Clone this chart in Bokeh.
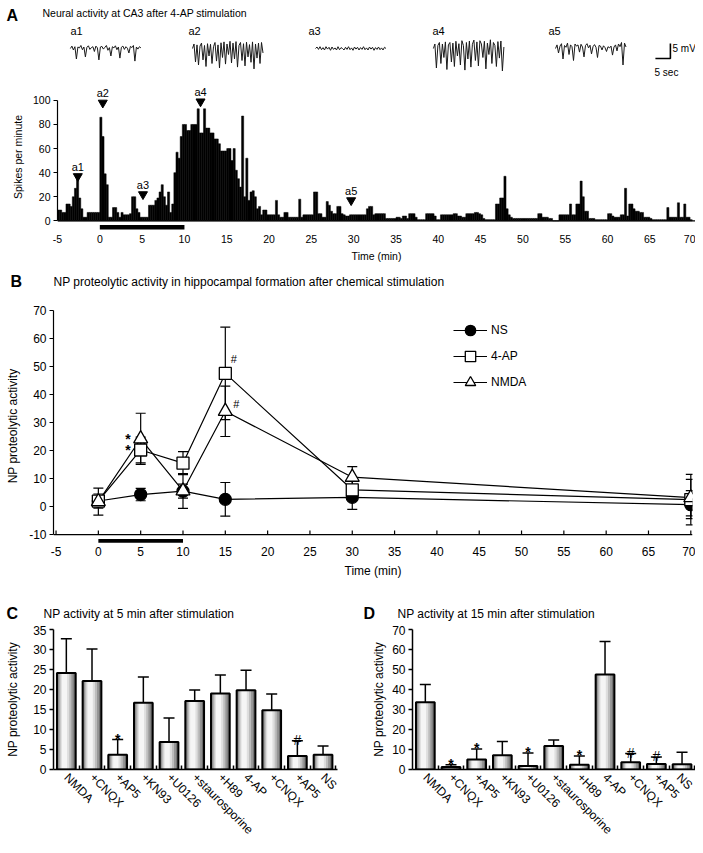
import math
import numpy as np
from bokeh.plotting import figure
from bokeh.layouts import column, row
from bokeh.models import (Range1d, Label, Span, FixedTicker, Whisker, TeeHead,
                          ColumnDataSource, Legend, LegendItem)
from bokeh.core.properties import value
from bokeh.embed import file_html
from bokeh.resources import INLINE

SANS = "Liberation Sans"

# ======================= DATA =======================
# ---- Panel A: example traces (mV, sampled every trace_dt_s seconds) ----
trace_labels = ["a1", "a2", "a3", "a4", "a5"]
trace_a1 = [0, 0.8, -0.5, 0.6, -3.5, 0.5, 0.2, 1.0, -0.4, 0.5, -2.8, 0.4, 0.9, -0.3, 0.3, 0.6,
            -1.0, 0.8, 0.2, -3.8, 0.5, 0.7, -0.2, 0.4, 1.0, -0.6, 0.3, -2.5, 0.6, 0.2, 0.9, -0.4,
            0.5, -3.2, 0.4, 0.8, -0.3, 0.6, 0.1, -1.5, 0.7, 0.3, 1.0, -4.2, 0.5, -0.2, 0.6, 0.2]
trace_a2 = [0, 1.5, -4.5, 1.2, -5.5, 0.8, 1.8, -3.8, 1.0, -6.0, 1.6, -2.5, 1.4, -5.0, 0.6, 2.0,
            -4.2, 1.2, -6.5, 1.9, -3.0, 2.2, -5.2, 1.5, -2.0, 2.4, -4.8, 1.8, -3.5, 2.3, -6.2, 1.0,
            2.0, -4.0, 1.6, -5.8, 2.1, -2.8, 1.3, -4.6, 2.2, -6.8, 1.5, -3.2, 1.8, -5.0, 2.0, -1.5]
trace_a3 = [0, 0.5, -0.3, 0.6, -0.4, 0.3, -0.5, 0.6, -0.2, 0.4, -0.6, 0.5, -0.3, 0.2, -0.5, 0.6,
            -0.4, 0.3, 0.0, -0.5, 0.4, -0.3, 0.6, -0.4, 0.2, -0.6, 0.5, -0.2, 0.4, -0.5, 0.3, -0.3,
            0.6, -0.4, 0.2, -0.5, 0.5, -0.2, 0.4, -0.6, 0.3, -0.3, 0.5, -0.4, 0.2, -0.5, 0.4, 0.0]
trace_a4 = [0, 1.5, -6.5, 1.0, 2.0, -5.0, 1.5, -3.0, 2.2, -7.0, 1.2, 2.0, -4.5, 1.8, -6.0, 2.4,
            -2.5, 1.6, -5.5, 2.6, 1.0, -7.2, 2.0, -3.5, 2.5, -6.2, 1.4, 2.8, -4.0, 2.2, -5.8, 2.6,
            1.5, -3.0, 2.4, -6.8, 1.8, -2.0, 2.9, -5.0, 2.0, 1.0, -6.0, 2.3, -3.2, 2.5, -7.5, 0.5]
trace_a5 = [0, 1.2, -1.5, 0.8, 1.6, -3.5, 1.0, 0.4, 1.8, -2.0, 1.2, 0.6, -4.0, 1.5, 0.8, 1.2,
            -1.2, 1.4, 0.5, -2.8, 1.0, 1.6, 0.2, 1.1, -1.8, 0.6, 1.3, 0.4, -3.0, 1.0, 0.8, -0.5,
            0.9, 0.3, -1.0, 0.6, 0.2, 0.8, -2.2, 0.5, 1.2, -0.8, 1.5, 0.6, 2.0, -5.5, 1.8, 0.5]
trace_dt_s = 0.5
scale_bar_sec = 5
scale_bar_mv = 5

# ---- Panel A: spike histogram (spikes per minute, 0.25-min bins from -5 min) ----
a_first_bin = -5.0
a_bin_min = 0.25
a_spikes = [
    9, 9, 7, 7, 14, 14, 12, 20, 27, 35, 19, 10, 3, 3, 7, 7, 7, 7, 7, 7,          # -5..0
    86, 70, 39, 30, 3, 3, 11, 11, 7, 3, 7, 5, 5, 5, 6, 20, 20, 10, 7, 3,         # 0..5
    3, 3, 3, 13, 13, 13, 17, 19, 24, 30, 20, 13, 24, 7, 14, 40, 57, 52, 70, 80,  # 5..10
    80, 75, 75, 80, 80, 80, 93, 73, 73, 93, 77, 77, 73, 73, 68, 68, 64, 58, 58, 58,  # 10..15
    60, 60, 50, 60, 42, 35, 28, 87, 20, 52, 17, 24, 25, 20, 10, 12, 5, 9, 9, 5,  # 15..20
    5, 5, 5, 17, 5, 3, 3, 7, 7, 3, 3, 3, 3, 3, 18, 3, 5, 5, 5, 5,                # 20..25
    5, 24, 24, 6, 6, 3, 3, 16, 13, 8, 6, 6, 12, 12, 6, 5, 4, 4, 5, 5,            # 25..30
    5, 5, 5, 5, 5, 5, 10, 12, 12, 5, 6, 6, 6, 6, 6, 2, 2, 2, 2, 2,               # 30..35
    3, 3, 2, 4, 4, 2, 6, 6, 6, 3, 1, 1, 1, 1, 6, 6, 6, 6, 4, 1,                  # 35..40
    1, 5, 5, 5, 5, 5, 5, 6, 6, 4, 4, 3, 3, 6, 6, 6, 6, 7, 7, 6,                  # 40..45
    5, 2, 1, 1, 1, 1, 1, 14, 14, 19, 19, 37, 10, 5, 3, 2, 2, 2, 2, 2,            # 45..50
    2, 2, 2, 2, 2, 2, 2, 6, 6, 3, 3, 3, 2, 2, 0, 0, 0, 5, 5, 5,                  # 50..55
    5, 5, 14, 5, 5, 14, 14, 33, 20, 8, 8, 2, 2, 2, 1, 1, 1, 1, 1, 1,             # 55..60
    6, 6, 4, 3, 3, 3, 5, 5, 27, 4, 14, 14, 10, 8, 8, 7, 7, 3, 3, 3,              # 60..65
    2, 1, 1, 1, 1, 1, 1, 1, 11, 3, 3, 3, 3, 15, 3, 3, 14, 3, 3, 1,               # 65..70
]
a_xticks = list(range(-5, 75, 5))
a_yticks = [0, 20, 40, 60, 80, 100]
a_event_t = [-2.6, 0.35, 5.1, 11.9, 29.7]
a_event_y = [37, 98, 22, 99, 17]
stim_on = [0]
stim_off = [10]

# ---- Panel B: NP proteolytic activity time course ----
b_time = [0, 5, 10, 15, 30, 70]
b_ns = [2.0, 4.3, 5.5, 2.6, 3.3, 0.7]
b_ns_err = [1.5, 2.2, 2.5, 6.0, 4.3, 5.0]
b_4ap = [2.0, 20.2, 15.5, 47.5, 6.0, 2.5]
b_4ap_err = [2.5, 4.6, 4.1, 16.5, 3.0, 9.0]
b_nmda = [1.8, 24.2, 5.6, 34.0, 10.5, 3.2]
b_nmda_err = [4.8, 9.1, 6.2, 9.0, 3.8, 6.5]
b_xticks = list(range(-5, 75, 5))
b_yticks = list(range(-10, 80, 10))
b_star_t = [3.5, 3.5]
b_star_y = [25.3, 21.1]
b_hash_t = [16.0, 16.3]
b_hash_y = [52.6, 36.6]

# ---- Panels C / D: bar charts ----
cd_labels = ["NMDA", "+CNQX", "+AP5", "+KN93", "+U0126", "+staurosporine", "+H89",
             "4-AP", "+CNQX", "+AP5", "NS"]
c_mean = [24.1, 22.1, 3.7, 16.7, 6.9, 17.1, 19.0, 19.8, 14.8, 3.4, 3.7]
c_err = [8.6, 8.0, 3.8, 6.4, 6.0, 2.8, 4.6, 5.0, 4.1, 3.8, 2.2]
c_mark_idx = [2, 9]
c_mark_txt = ["*", "#"]
c_yticks = [0, 5, 10, 15, 20, 25, 30, 35]
d_mean = [33.6, 1.3, 5.0, 7.1, 1.8, 11.7, 2.4, 47.5, 3.6, 2.8, 2.6]
d_err = [8.9, 1.1, 5.2, 6.9, 6.5, 3.1, 4.4, 16.5, 4.4, 3.4, 6.0]
d_mark_idx = [1, 2, 4, 6, 8, 9]
d_mark_txt = ["*", "*", "*", "*", "#", "#"]
d_yticks = [0, 10, 20, 30, 40, 50, 60, 70]

# ======================= HELPERS =======================
W = 695
COMMON = dict(toolbar_location=None, output_backend="svg", outline_line_color=None,
              frame_align=False)


def label(p, x, y, text, size="12px", bold=False, align="left", baseline="middle"):
    p.add_layout(Label(x=x, y=y, x_units="screen", y_units="screen", text=text,
                       text_font=SANS, text_font_size=size,
                       text_font_style="bold" if bold else "normal",
                       text_color="black", text_baseline=baseline, text_align=align))


def style_axis(ax, size="12px", lw=1.2):
    ax.axis_line_color = "black"
    ax.axis_line_width = lw
    ax.major_tick_line_color = "black"
    ax.major_tick_line_width = lw
    ax.minor_tick_line_color = None
    ax.major_label_text_font = SANS
    ax.major_label_text_font_size = size
    ax.major_label_text_color = "black"
    ax.axis_label_text_font = SANS
    ax.axis_label_text_font_size = size
    ax.axis_label_text_font_style = "normal"
    ax.axis_label_text_color = "black"


def hyphen_labels(ticks):
    return {t: ("-%d" % abs(t)) for t in ticks if t < 0}


def header_fig(h):
    p = figure(width=W, height=h, x_range=Range1d(0, W), y_range=Range1d(0, h),
               x_axis_type=None, y_axis_type=None, min_border=0, **COMMON)
    p.title.visible = False
    return p


# ======================= PANEL A: header + traces strip =======================
PA_H = 83
trace_x0 = [23.3, 64.0, 105.0, 144.3, 185.0]   # layout: seconds from strip left (3 px/s)
pa = figure(width=W, height=PA_H, x_range=Range1d(0, W / 3), y_range=Range1d(-11.67, 16.0),
            x_axis_type=None, y_axis_type=None, min_border=0, **COMMON)
pa.title.visible = False
for data, x0 in zip([trace_a1, trace_a2, trace_a3, trace_a4, trace_a5], trace_x0):
    t = x0 + trace_dt_s * np.arange(len(data))
    pa.line(t, data, line_color="#1a1a1a", line_width=1)
sb_x, sb_y = 223.3, -3.33
pa.line([sb_x - scale_bar_sec, sb_x, sb_x], [sb_y, sb_y, sb_y + scale_bar_mv],
        line_color="black", line_width=1.6)
label(pa, 6, PA_H - 6, "A", size="16px", bold=True, baseline="top")
label(pa, 42, PA_H - 6, "Neural activity at CA3 after 4-AP stimulation", size="10.5px",
      baseline="top")
for name, px in zip(trace_labels, [70, 188, 308, 432, 548]):
    label(pa, px, PA_H - 30, name, size="11px")
label(pa, 672, PA_H - 48, "5 mV", size="10px")
label(pa, 654, PA_H - 72, "5 sec", size="10px")

# ======================= PANEL A: histogram =======================
ph = figure(width=W, height=182, x_range=Range1d(-5, 70.39), y_range=Range1d(-8, 114),
            min_border_left=57, min_border_right=0, min_border_top=0, min_border_bottom=35,
            **COMMON)
ph.title.visible = False
ph.grid.visible = False
edges = a_first_bin + a_bin_min * np.arange(len(a_spikes))
ph.quad(left=edges, right=edges + a_bin_min, bottom=0, top=a_spikes,
        fill_color="black", line_color="black", line_width=0.5)
ph.add_layout(Span(location=0, dimension="width", line_color="black", line_width=1.2))
ph.quad(left=stim_on, right=stim_off, bottom=-7.2, top=-3.4, fill_color="black", line_color=None)
ph.scatter(a_event_t, a_event_y, marker="inverted_triangle", size=9,
           fill_color="black", line_color="black")
ph.text(a_event_t, list(np.array(a_event_y) + 8), text=trace_labels, text_align="center",
        text_baseline="middle", text_font=value(SANS), text_font_size="11px",
        text_color="black")
style_axis(ph.xaxis[0], size="10.5px")
ph.xaxis.ticker = FixedTicker(ticks=a_xticks)
ph.xaxis.major_label_overrides = hyphen_labels(a_xticks)
ph.xaxis.axis_line_color = None
ph.xaxis.major_tick_out = 0
ph.xaxis.major_tick_in = 0
ph.xaxis.major_label_standoff = 4
ph.xaxis.axis_label = "Time (min)"
ph.xaxis.axis_label_standoff = 4
style_axis(ph.yaxis[0], size="10.5px")
ph.yaxis.ticker = FixedTicker(ticks=a_yticks)
ph.yaxis.bounds = (a_yticks[0], a_yticks[-1])
ph.yaxis.major_tick_out = 4
ph.yaxis.major_tick_in = 0
ph.yaxis.major_label_standoff = 3
ph.yaxis.axis_label = "Spikes per minute"
ph.yaxis.axis_label_standoff = 6

# ======================= PANEL B =======================
hb = header_fig(30)
label(hb, 10, 14, "B", size="16px", bold=True)
label(hb, 53, 14, "NP proteolytic activity in hippocampal formation after chemical stimulation")

pb = figure(width=W, height=295, x_range=Range1d(-5.3, 70.2), y_range=Range1d(-13.5, 71),
            min_border_left=53, min_border_right=3, min_border_top=12, min_border_bottom=46,
            **COMMON)
pb.title.visible = False
pb.grid.visible = False
style_axis(pb.xaxis[0])
pb.xaxis.ticker = FixedTicker(ticks=b_xticks)
pb.xaxis.major_label_overrides = hyphen_labels(b_xticks)
pb.xaxis.axis_line_color = None
pb.xaxis.major_tick_in = 0
pb.xaxis.major_tick_out = 0
pb.xaxis.major_label_standoff = 2
pb.xaxis.axis_label = "Time (min)"
pb.xaxis.axis_label_standoff = 5
style_axis(pb.yaxis[0])
pb.yaxis.ticker = FixedTicker(ticks=b_yticks)
pb.yaxis.major_label_overrides = hyphen_labels(b_yticks)
pb.yaxis.bounds = (b_yticks[0], b_yticks[-1])
pb.yaxis.major_tick_out = 4
pb.yaxis.major_tick_in = 0
pb.yaxis.major_label_standoff = 3
pb.yaxis.axis_label = "NP proteolytic activity"
pb.yaxis.axis_label_standoff = 6
# x-axis line at the lowest y tick, with inward ticks
b_base = b_yticks[0]
pb.add_layout(Span(location=b_base, dimension="width", line_color="black", line_width=1.2))
pb.segment(x0=b_xticks, y0=[b_base] * len(b_xticks), x1=b_xticks,
           y1=[b_base + 1.45] * len(b_xticks), line_color="black", line_width=1.2)
pb.quad(left=stim_on, right=stim_off, bottom=-12.9, top=-11.5, fill_color="black", line_color=None)

series = [("NS", b_ns, b_ns_err, "circle", "black", 12),
          ("4-AP", b_4ap, b_4ap_err, "square", "white", 12),
          ("NMDA", b_nmda, b_nmda_err, "triangle", "white", 14)]
sources = []
line_r = []
for name, m, e, mk, fc, sz in series:
    m_arr, e_arr = np.array(m), np.array(e)
    src = ColumnDataSource(dict(t=b_time, m=m, lo=m_arr - e_arr, hi=m_arr + e_arr))
    sources.append(src)
    pb.add_layout(Whisker(source=src, base="t", lower="lo", upper="hi", dimension="height",
                          line_color="black", line_width=1.2, level="underlay",
                          upper_head=TeeHead(size=10, line_width=1.2, line_color="black"),
                          lower_head=TeeHead(size=10, line_width=1.2, line_color="black")))
    line_r.append(pb.line("t", "m", source=src, line_color="black", line_width=1.2))
items = []
for (name, m, e, mk, fc, sz), src, rl in zip(series, sources, line_r):
    rm = pb.scatter("t", "m", source=src, marker=mk, size=sz, fill_color=fc,
                    line_color="black", line_width=1.3)
    items.append(LegendItem(label=name, renderers=[rl, rm]))
legend = Legend(items=items, location=(400, 149), glyph_width=34, glyph_height=26,
                label_height=26, spacing=0, padding=0, margin=0, border_line_color=None,
                background_fill_alpha=0, label_text_font=SANS, label_text_font_size="12px",
                label_standoff=4, label_text_color="black")
pb.add_layout(legend)
pb.text(b_star_t, b_star_y, text=["*", "*"], text_align="center", text_baseline="middle",
        y_offset=3, text_font=value(SANS), text_font_size="14px", text_font_style="bold",
        text_color="black")
pb.text(b_hash_t, b_hash_y, text=["#", "#"], text_align="center", text_baseline="middle",
        text_font=value(SANS), text_font_size="11px", text_color="black")

# ======================= PANELS C / D =======================
hcd = header_fig(35)
label(hcd, 6, 12, "C", size="16px", bold=True)
label(hcd, 43, 12, "NP activity at 5 min after stimulation")
label(hcd, 363, 12, "D", size="16px", bold=True)
label(hcd, 397, 12, "NP activity at 15 min after stimulation")

CAT_PX = 25.67
BAR_W = 0.73
grad_frac = [1.0, 0.82, 0.64, 0.46, 0.28]
grad_col = ["#6a6a6a", "#959595", "#bdbdbd", "#dedede", "#f5f5f5"]


def bar_panel(width, bl, br, mean, err, yticks, mk_idx, mk_txt, ylab_standoff):
    n = len(cd_labels)
    xs = np.arange(n)
    frame_w = width - bl - br
    p = figure(width=width, height=220, x_range=Range1d(-0.5, -0.5 + frame_w / CAT_PX),
               y_range=Range1d(yticks[0], yticks[-1]), min_border_left=bl,
               min_border_right=br, min_border_top=4, min_border_bottom=76, **COMMON)
    p.title.visible = False
    p.grid.visible = False
    mean_a, err_a = np.array(mean), np.array(err)
    for f, col in zip(grad_frac, grad_col):
        p.vbar(x=xs - (1 - f) * 0.1, top=mean, width=BAR_W * f, bottom=0,
               fill_color=col, line_color=None)
    p.vbar(x=xs, top=mean, width=BAR_W, bottom=0, fill_color=None,
           line_color="black", line_width=2)
    src = ColumnDataSource(dict(x=xs, lo=mean_a, hi=mean_a + err_a))
    p.add_layout(Whisker(source=src, base="x", lower="lo", upper="hi", dimension="height",
                         line_color="black", line_width=1.5, lower_head=None,
                         upper_head=TeeHead(size=11, line_width=1.5, line_color="black")))
    mi = np.array(mk_idx)
    msrc = ColumnDataSource(dict(x=list(xs[mi]), y=list((mean_a + err_a)[mi]), t=mk_txt,
                                 st=["bold" if s == "*" else "normal" for s in mk_txt]))
    p.text("x", "y", text="t", source=msrc, text_align="center",
           text_baseline="alphabetic", y_offset=-1, text_font=value(SANS),
           text_font_size="14px", text_font_style="st", text_color="black")
    style_axis(p.xaxis[0], lw=1.5)
    p.xaxis.ticker = FixedTicker(ticks=list(xs), minor_ticks=list(xs + 0.5))
    p.xaxis.major_label_overrides = {int(i): lab for i, lab in enumerate(cd_labels)}
    p.xaxis.major_label_orientation = -math.pi / 4
    p.xaxis.major_tick_in = 0
    p.xaxis.major_tick_out = 0
    p.xaxis.minor_tick_line_color = "black"
    p.xaxis.minor_tick_line_width = 1.5
    p.xaxis.minor_tick_in = 4
    p.xaxis.minor_tick_out = 0
    p.xaxis.major_label_standoff = 6
    style_axis(p.yaxis[0], lw=1.5)
    p.yaxis.ticker = FixedTicker(ticks=yticks)
    p.yaxis.major_tick_out = 4
    p.yaxis.major_tick_in = 0
    p.yaxis.major_label_standoff = 3
    p.yaxis.axis_label = "NP proteolytic activity"
    p.yaxis.axis_label_standoff = ylab_standoff
    return p


pc = bar_panel(349, 53, 12, c_mean, c_err, c_yticks, c_mark_idx, c_mark_txt, 10)
pd_ = bar_panel(346, 63, 0, d_mean, d_err, d_yticks, d_mark_idx, d_mark_txt, 3)

layout = column(pa, ph, hb, pb, hcd, row(pc, pd_))
open("out.html", "w").write(file_html(layout, INLINE))
